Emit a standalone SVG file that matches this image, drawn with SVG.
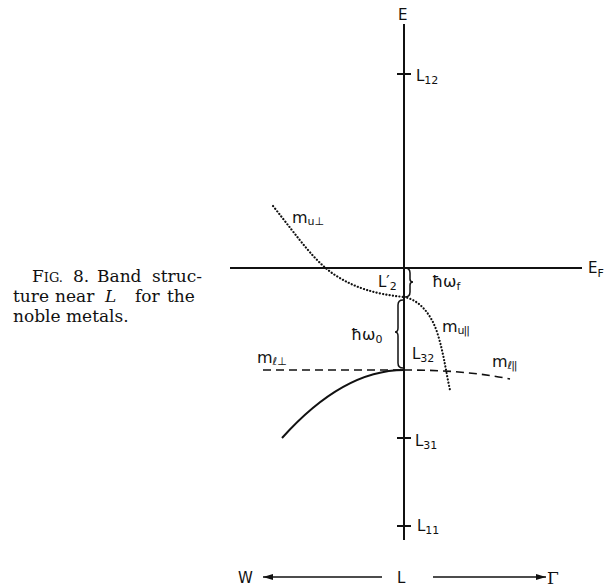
<svg xmlns="http://www.w3.org/2000/svg" width="608" height="588" viewBox="0 0 608 588">
<style>
.lab{font-family:"DejaVu Sans","Liberation Sans",sans-serif;font-size:15px;fill:#111}
.m{font-family:"DejaVu Sans","Liberation Sans",sans-serif;font-size:16px;fill:#111}
.s{font-size:11px}
.cap{font-family:"DejaVu Serif","Liberation Serif",serif;font-size:17px;fill:#111}
.sc{font-size:13px}
.ax{stroke:#111;stroke-width:2;fill:none}
.thin{stroke:#111;stroke-width:1.5;fill:none}
.dot{stroke:#111;stroke-width:2.2;fill:none;stroke-dasharray:0.1 3.2;stroke-linecap:round}
.dash{stroke:#111;stroke-width:1.6;fill:none;stroke-dasharray:8 5}
</style>
<defs>
<marker id="ah" viewBox="0 0 10 6" refX="10" refY="3" markerWidth="10" markerHeight="6" markerUnits="userSpaceOnUse" orient="auto">
<path d="M0,0 L10,3 L0,6 Z" fill="#111"/>
</marker>
</defs>
<g id="caption">
<text class="cap" x="32" y="282">F<tspan class="sc">IG.</tspan></text>
<text class="cap" x="73" y="282">8.</text>
<text class="cap" x="97" y="282">Band</text>
<text class="cap" x="152" y="282">struc-</text>
<text class="cap" x="13" y="302">ture</text>
<text class="cap" x="55" y="302">near</text>
<text class="cap" x="105" y="302" font-style="italic">L</text>
<text class="cap" x="135" y="302">for</text>
<text class="cap" x="167" y="302">the</text>
<text class="cap" x="13" y="322">noble metals.</text>
</g>
<g id="connectors">
<line id="energy-axis" class="ax" x1="404" y1="24" x2="404" y2="540"/>
<line id="fermi-level" class="ax" x1="230" y1="268" x2="582" y2="268"/>
<line class="ax" x1="397" y1="74" x2="411" y2="74"/>
<line class="ax" x1="397" y1="438" x2="411" y2="438"/>
<line class="ax" x1="397" y1="526" x2="411" y2="526"/>
<path id="m-u-perp" class="dot" d="M273,206 C300,240 315,262 335,275 C355,288 375,294 404,297"/>
<path id="m-u-par" class="dot" d="M404,297 C420,300 432,315 438,335 C444,355 446,372 450,390"/>
<path id="m-l-perp" class="dash" d="M263,370 H404"/>
<path id="m-l-par" class="dash" d="M404,370 C440,370 475,372 510,379"/>
<path id="band-solid" class="ax" d="M282,438 Q343,370 404,370"/>
<path id="brace-f" class="thin" d="M405,268 Q410,268 410,273 L410,279 Q410,282 413,282 Q410,282 410,285 L410,292 Q410,297 405,297"/>
<path id="brace-0" class="thin" d="M403,300 Q398,300 398,305 L398,328 Q398,332 395,332 Q398,332 398,336 L398,363 Q398,368 403,368"/>
<line class="thin" x1="382" y1="577" x2="263" y2="577" marker-end="url(#ah)"/>
<line class="thin" x1="433" y1="577" x2="546" y2="577" marker-end="url(#ah)"/>
</g>
<g id="label-E"><text class="lab" x="398" y="20">E</text></g>
<g id="label-L12"><text class="lab" x="416" y="81">L<tspan class="s" dy="3">12</tspan></text></g>
<g id="label-L31"><text class="lab" x="415" y="446">L<tspan class="s" dy="3">31</tspan></text></g>
<g id="label-L11"><text class="lab" x="417" y="531">L<tspan class="s" dy="3">11</tspan></text></g>
<g id="label-L32"><text class="lab" x="412" y="359">L<tspan class="s" dy="3">32</tspan></text></g>
<g id="label-L2p"><text class="lab" x="378" y="287">L′<tspan class="s" dy="3">2</tspan></text></g>
<g id="label-hwf"><text class="m" x="432" y="287">ħω<tspan class="s" dy="3">f</tspan></text></g>
<g id="label-hw0"><text class="m" x="351" y="340">ħω<tspan class="s" dy="3">0</tspan></text></g>
<g id="label-mu-perp"><text class="m" x="292" y="223">m<tspan class="s" dy="2">u⊥</tspan></text></g>
<g id="label-mu-par"><text class="m" x="442" y="332">m<tspan class="s" dy="2" letter-spacing="-1">u||</tspan></text></g>
<g id="label-ml-par"><text class="m" x="492" y="367">m<tspan class="s" dy="2" letter-spacing="-1">ℓ||</tspan></text></g>
<g id="label-ml-perp"><text class="m" x="257" y="363">m<tspan class="s" dy="2">ℓ⊥</tspan></text></g>
<g id="label-EF"><text class="lab" x="588" y="273">E<tspan class="s" dy="4">F</tspan></text></g>
<g id="label-W"><text class="lab" x="238" y="583">W</text></g>
<g id="label-L"><text class="lab" x="397" y="583">L</text></g>
<g id="label-Gamma"><text class="cap" x="547" y="584" font-size="20">Γ</text></g>
</svg>
